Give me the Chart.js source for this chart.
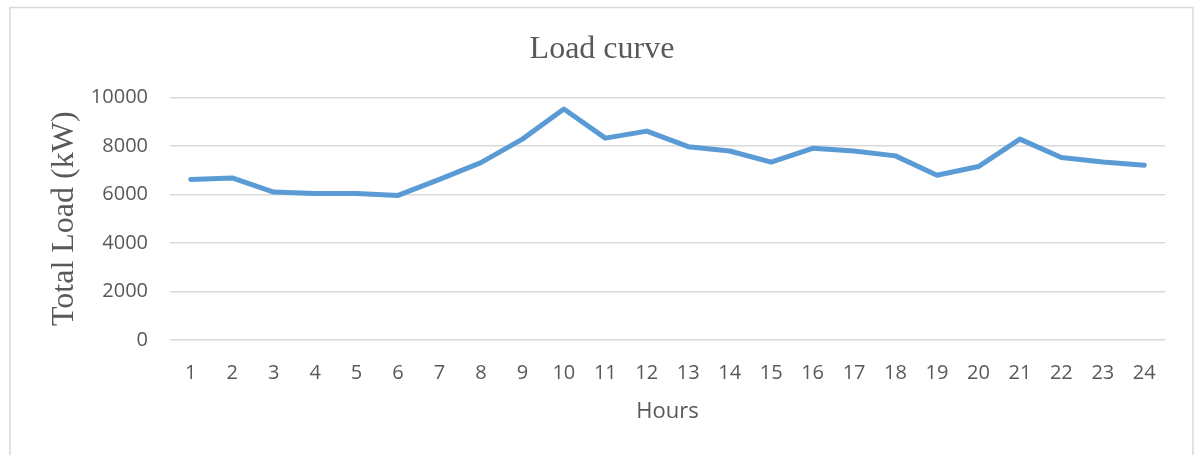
<!DOCTYPE html>
<html>
<head>
<meta charset="utf-8">
<script src="https://cdn.jsdelivr.net/npm/chart.js@4/dist/chart.umd.min.js"></script>
<style>
  html, body { margin: 0; padding: 0; background: #fff; }
  #wrap { width: 1194px; height: 455px; position: relative; }
</style>
</head>
<body>
<div id="wrap"><canvas id="loadChart" width="1194" height="455"></canvas></div>
<script>
const hours = ['1', '2', '3', '4', '5', '6', '7', '8', '9', '10', '11', '12',
               '13', '14', '15', '16', '17', '18', '19', '20', '21', '22', '23', '24'];
const totalLoad = [6620, 6680, 6100, 6040, 6040, 5960, 6620, 7310, 8280, 9520, 8320, 8610,
                   7970, 7790, 7330, 7900, 7790, 7590, 6790, 7150, 8280, 7520, 7340, 7200];
const yTicks = [0, 2000, 4000, 6000, 8000, 10000];

const textGrey = '#595959';

// light frame round the whole chart
const framePlugin = {
    id: 'frame',
    beforeDraw(chart) {
        const ctx = chart.ctx;
        ctx.save();
        ctx.fillStyle = '#ffffff';
        ctx.fillRect(0, 0, chart.width, chart.height);
        ctx.strokeStyle = '#d9d9d9';
        ctx.lineWidth = 1.5;
        ctx.strokeRect(10, 7.5, 1183, 460);
        ctx.restore();
    }
};

new Chart(document.getElementById('loadChart'), {
    type: 'line',
    data: {
        labels: hours,
        datasets: [{
            label: 'Total Load',
            data: totalLoad,
            borderColor: '#5b9bd5',
            backgroundColor: '#5b9bd5',
            borderWidth: 5,
            borderCapStyle: 'round',
            borderJoinStyle: 'round',
            pointRadius: 0,
            tension: 0
        }]
    },
    options: {
        responsive: false,
        animation: false,
        layout: { padding: { left: 39, right: 29, top: 0, bottom: 0 } },
        plugins: {
            legend: { display: false },
            tooltip: { enabled: false },
            title: {
                display: true,
                text: 'Load curve',
                color: textGrey,
                font: { family: '"Liberation Serif", "Times New Roman", serif', size: 32, weight: 'normal' },
                padding: { top: 30, bottom: 29 }
            }
        },
        scales: {
            x: {
                offset: true,
                grid: { display: false },
                border: { display: false },
                ticks: {
                    color: textGrey,
                    padding: 13,
                    maxRotation: 0,
                    font: { family: '"Open Sans", sans-serif', size: 20 }
                },
                title: {
                    display: true,
                    text: 'Hours',
                    color: textGrey,
                    font: { family: '"Open Sans", sans-serif', size: 22 },
                    padding: { top: 0, bottom: 30 }
                },
                afterFit(scale) { scale.height = 115; }
            },
            y: {
                min: 0,
                max: 10000,
                afterBuildTicks(scale) {
                    scale.ticks = yTicks.map(v => ({ value: v }));
                },
                grid: { color: '#d9d9d9', lineWidth: 1.5, drawTicks: false },
                border: { display: false },
                ticks: {
                    color: textGrey,
                    padding: 22,
                    font: { family: '"Open Sans", sans-serif', size: 20 },
                    callback: v => String(v)
                },
                title: {
                    display: true,
                    text: 'Total Load (kW)',
                    color: textGrey,
                    font: { family: '"Liberation Serif", "Times New Roman", serif', size: 32 },
                    padding: { top: 6, bottom: 0 }
                },
                afterFit(scale) { scale.width = 131; }
            }
        }
    },
    plugins: [framePlugin]
});
</script>
</body>
</html>
